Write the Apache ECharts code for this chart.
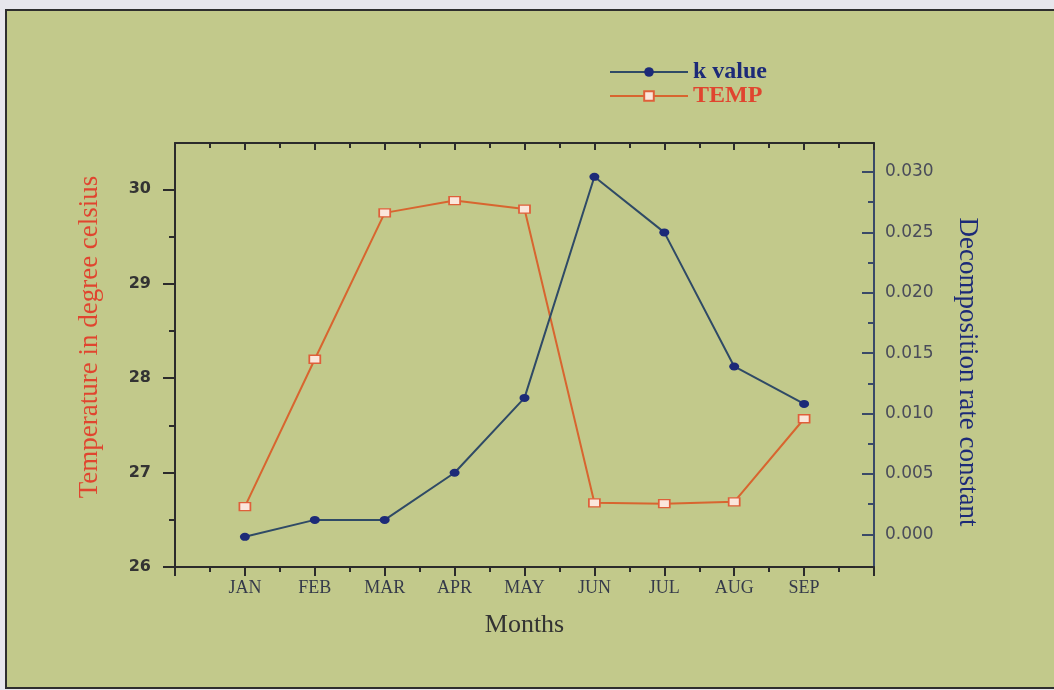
<!DOCTYPE html>
<html>
<head>
<meta charset="utf-8">
<script src="https://cdn.jsdelivr.net/npm/echarts@6/dist/echarts.min.js"></script>
<style>
  html, body { margin: 0; padding: 0; background: #e7e6ec; }
  #chart { width: 1054px; height: 690px; }
</style>
</head>
<body>
<div id="chart"></div>
<script>
// Monthly temperature (left axis) and decomposition rate constant k (right axis)
const months = ['JAN', 'FEB', 'MAR', 'APR', 'MAY', 'JUN', 'JUL', 'AUG', 'SEP'];
const temperature = [26.64, 28.20, 29.75, 29.88, 29.79, 26.68, 26.67, 26.69, 27.57];
const kValue = [-0.0002, 0.0012, 0.0012, 0.0051, 0.0113, 0.0296, 0.0250, 0.0139, 0.0108];

const tempTicks = [26, 27, 28, 29, 30];
const tempMinorTicks = [26.5, 27.5, 28.5, 29.5];
const kTicks = [0, 0.005, 0.010, 0.015, 0.020, 0.025, 0.030];
const kMinorTicks = [0.0025, 0.0075, 0.0125, 0.0175, 0.0225, 0.0275];

const TEMP_MIN = 26, TEMP_MAX = 30.49;
const K_MIN = -0.0027, K_MAX = 0.0324;

const dark = '#2b2b2b';
const navy = '#1c2a78';
const kLine = '#2f4a66';
const tempLine = '#d8652f';
const red = '#e0452f';

const tempSeries = months.map((m, i) => [i + 1, temperature[i]]);
const kSeries = months.map((m, i) => [i + 1, kValue[i]]);

const chart = echarts.init(document.getElementById('chart'));

const xCommon = { type: 'value', min: 0, max: 10, interval: 1, splitLine: { show: false } };

chart.setOption({
  backgroundColor: '#e7e6ec',
  animation: false,
  graphic: [{
    type: 'rect', z: -10, silent: true,
    shape: { x: 6, y: 10, width: 1060, height: 678 },
    style: { fill: '#c2c98b', stroke: '#2e2e2e', lineWidth: 2 }
  }],
  grid: { left: 175, right: 180, top: 143, bottom: 123, containLabel: false },
  legend: {
    orient: 'vertical', left: 604, top: 55,
    itemWidth: 78, itemHeight: 12, itemGap: 0,
    textStyle: { fontFamily: 'Liberation Serif', fontSize: 24, fontWeight: 'bold', lineHeight: 21 },
    data: [
      { name: 'k value', textStyle: { color: navy } },
      { name: 'TEMP', textStyle: { color: red } }
    ]
  },
  xAxis: [
    Object.assign({}, xCommon, {
      position: 'bottom',
      axisLine: { show: true, onZero: false, lineStyle: { color: dark, width: 2 } },
      axisTick: { show: true, length: 9, lineStyle: { color: dark, width: 2 } },
      minorTick: { show: true, splitNumber: 2, length: 5, lineStyle: { color: dark, width: 2 } },
      axisLabel: {
        margin: 12, color: '#353a4a', fontFamily: 'Liberation Serif', fontSize: 18,
        formatter: v => months[v - 1] || ''
      },
      name: 'Months', nameLocation: 'middle', nameGap: 45,
      nameTextStyle: { color: '#333', fontFamily: 'Liberation Serif', fontSize: 26 }
    }),
    Object.assign({}, xCommon, {
      position: 'top',
      axisLine: { show: true, onZero: false, lineStyle: { color: dark, width: 2 } },
      axisTick: { show: true, inside: true, length: 7, lineStyle: { color: dark, width: 2 } },
      minorTick: { show: true, splitNumber: 2, length: 5, lineStyle: { color: dark, width: 2 } },
      axisLabel: { show: false }
    })
  ],
  yAxis: [
    {
      type: 'value', position: 'left', min: TEMP_MIN, max: TEMP_MAX,
      splitLine: { show: false },
      axisLine: { show: true, onZero: false, lineStyle: { color: dark, width: 2 } },
      axisTick: { show: true, customValues: tempTicks, length: 12, lineStyle: { color: dark, width: 2 } },
      axisLabel: {
        customValues: tempTicks, margin: 24, color: '#333',
        fontFamily: 'DejaVu Sans', fontWeight: 'bold', fontSize: 16
      },
      name: 'Temperature in degree celsius', nameLocation: 'middle', nameGap: 72, nameRotate: 90,
      nameTextStyle: { color: red, fontFamily: 'Liberation Serif', fontSize: 27, padding: [0, 0, 0, 36] }
    },
    {
      type: 'value', position: 'left', min: TEMP_MIN, max: TEMP_MAX,
      splitLine: { show: false }, axisLine: { show: false, onZero: false }, axisLabel: { show: false },
      axisTick: { show: true, customValues: tempMinorTicks, length: 6, lineStyle: { color: dark, width: 2 } }
    },
    {
      type: 'value', position: 'right', min: K_MIN, max: K_MAX,
      splitLine: { show: false },
      axisLine: { show: true, onZero: false, lineStyle: { color: '#3a4a68', width: 2 } },
      axisTick: { show: true, inside: true, customValues: kTicks, length: 12, lineStyle: { color: '#3a4a68', width: 2 } },
      axisLabel: {
        customValues: kTicks, margin: 11, color: '#4a4c5a',
        fontFamily: 'DejaVu Sans', fontSize: 17,
        formatter: v => v.toFixed(3)
      },
      name: 'Decomposition rate constant', nameLocation: 'middle', nameGap: 80, nameRotate: -90,
      nameTextStyle: { color: navy, fontFamily: 'Liberation Serif', fontSize: 27, padding: [0, 0, 0, 34] }
    },
    {
      type: 'value', position: 'right', min: K_MIN, max: K_MAX,
      splitLine: { show: false }, axisLine: { show: false, onZero: false }, axisLabel: { show: false },
      axisTick: { show: true, inside: true, customValues: kMinorTicks, length: 6, lineStyle: { color: '#3a4a68', width: 2 } }
    }
  ],
  series: [
    {
      name: 'k value', type: 'line', xAxisIndex: 0, yAxisIndex: 2, data: kSeries,
      symbol: 'circle', symbolSize: [10, 8], z: 3,
      lineStyle: { color: kLine, width: 2 },
      itemStyle: { color: navy }
    },
    {
      name: 'TEMP', type: 'line', xAxisIndex: 0, yAxisIndex: 0, data: tempSeries,
      symbol: 'rect', symbolSize: [11, 8], z: 2,
      lineStyle: { color: tempLine, width: 2 },
      itemStyle: { color: '#fbe6dc', borderColor: '#df5f3a', borderWidth: 1.5 }
    }
  ]
});
</script>
</body>
</html>
